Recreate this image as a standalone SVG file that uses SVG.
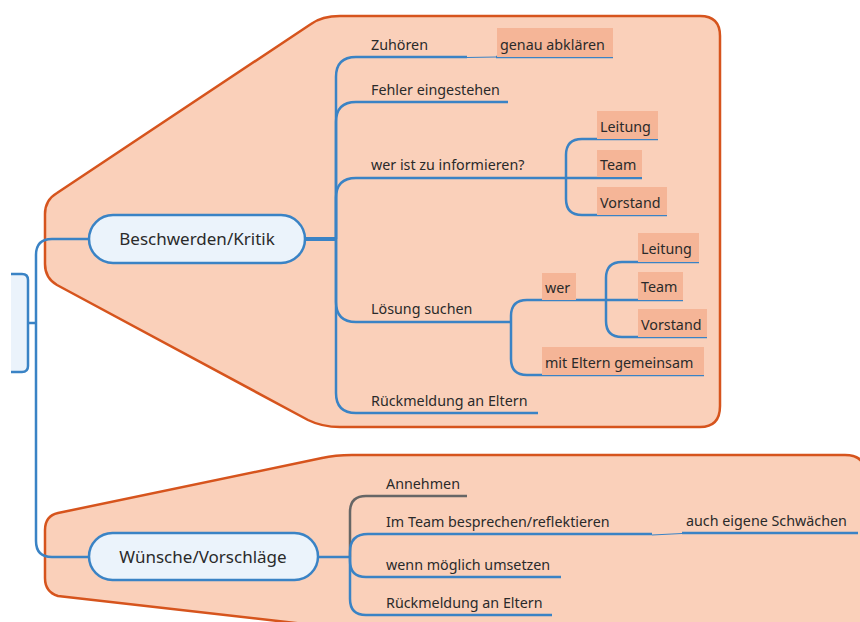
<svg xmlns="http://www.w3.org/2000/svg" width="860" height="622" viewBox="0 0 860 622">
<style>
.region{fill:#FAD0BA;stroke:#D6541D;stroke-width:2.5;stroke-linejoin:round}
.main{fill:#EBF3FB;stroke:#3A83C5;stroke-width:2.5}
.mt{font-family:"Noto Sans","Open Sans",sans-serif;font-size:17px;fill:#2a2a2a;text-anchor:middle}
.t{font-family:"Noto Sans","Open Sans",sans-serif;font-size:14.3px;fill:#2a2a2a}
.sb{fill:#F5B597}
.ln{fill:none;stroke:#3A83C5;stroke-width:2.5;stroke-linecap:butt}
.thin{fill:none;stroke:#3A83C5;stroke-width:1.2}
.grey{fill:none;stroke:#666;stroke-width:2.5}
</style>
<rect width="860" height="622" fill="#fff"/>
<g id="regions">
<path class="region" d="M57,193 L311,24 Q322,16 340,16 L700,16 Q720,16 720,36 L720,406 Q720,427 700,427 L340,427 Q322,427 308,420 L57,285 Q45,278 45,264 L45,214 Q45,200 57,193 Z"/>
<path class="region" d="M58,513 L322,458 Q335,455 352,455 L845,455 Q866,455 866,476 L866,640 L445,640 L58,596 Q45,592 45,578 L45,530 Q45,516 58,513 Z"/>
</g>
<g id="root">
<path d="M11,274 H22 Q28,274 28,280 V366 Q28,372 22,372 H11 Z" fill="#EBF3FB"/>
<path d="M11,274 H22 Q28,274 28,280 V366 Q28,372 22,372 H11" fill="none" stroke="#3A83C5" stroke-width="2.5"/>
</g>
<g id="connectors">
<path class="ln" d="M28,323 H36"/>
<path class="ln" d="M89,239 H52 Q36,239 36,255 V541 Q36,557 52,557 H89"/>
<path class="ln" d="M305,239 H336" style="stroke-width:4"/>
<path class="ln" d="M336,239 V77 Q336,57 356,57 H467"/>
<path class="thin" d="M467,57.5 L497,57"/>
<path class="ln" d="M336,239 V122 Q336,102 356,102 H508"/>
<path class="ln" d="M336,239 V198 Q336,178 356,178 H642"/>
<path class="ln" d="M336,239 V302 Q336,322 356,322 H511"/>
<path class="ln" d="M336,239 V393 Q336,413 356,413 H538"/>
<path class="ln" d="M566,177 V155 Q566,139 582,139 H658"/>
<path class="ln" d="M566,177 V199 Q566,215 582,215 H667"/>
<path class="ln" d="M511,322 V316 Q511,300 527,300 H683"/>
<path class="ln" d="M511,322 V359 Q511,375 527,375 H704"/>
<path class="ln" d="M606,300 V278 Q606,262 622,262 H699"/>
<path class="ln" d="M606,300 V321 Q606,337 622,337 H707"/>
<path class="ln" d="M496,57 H613"/>
<path class="ln" d="M318,557 H350"/>
<path class="grey" d="M350,557 V512 Q350,496 366,496 H467"/>
<path class="ln" d="M350,557 V552 Q350,534 368,534 H652"/>
<path class="thin" d="M652,535 L682,533.5"/>
<path class="ln" d="M682,533 H858"/>
<path class="ln" d="M350,557 V561 Q350,577 366,577 H561"/>
<path class="ln" d="M350,557 V599 Q350,615 366,615 H552"/>
</g>
<g id="n-beschwerden">
<rect class="main" x="89" y="215" width="216" height="48" rx="24"/>
<text class="mt" x="197" y="245">Beschwerden/Kritik</text>
</g>
<g id="n-wuensche">
<rect class="main" x="89" y="533" width="229" height="47" rx="23.5"/>
<text class="mt" x="203" y="563">Wünsche/Vorschläge</text>
</g>
<g id="n-zuhoeren"><text class="t" x="371" y="50">Zuhören</text></g>
<g id="n-genau"><rect class="sb" x="497" y="28" width="116" height="29"/><text class="t" x="500" y="50">genau abklären</text></g>
<g id="n-fehler"><text class="t" x="371" y="95">Fehler eingestehen</text></g>
<g id="n-werist"><text class="t" x="371" y="170">wer ist zu informieren?</text></g>
<g id="n-leitung1"><rect class="sb" x="597" y="111" width="61" height="28"/><text class="t" x="600" y="132">Leitung</text></g>
<g id="n-team1"><rect class="sb" x="597" y="150" width="45" height="27"/><text class="t" x="600" y="170">Team</text></g>
<g id="n-vorstand1"><rect class="sb" x="597" y="187" width="70" height="28"/><text class="t" x="600" y="208">Vorstand</text></g>
<g id="n-loesung"><text class="t" x="371" y="314">Lösung suchen</text></g>
<g id="n-wer"><rect class="sb" x="542" y="273" width="34" height="27"/><text class="t" x="545" y="293">wer</text></g>
<g id="n-leitung2"><rect class="sb" x="638" y="233" width="61" height="29"/><text class="t" x="641" y="254">Leitung</text></g>
<g id="n-team2"><rect class="sb" x="638" y="272" width="45" height="28"/><text class="t" x="641" y="292">Team</text></g>
<g id="n-vorstand2"><rect class="sb" x="638" y="309" width="69" height="28"/><text class="t" x="641" y="330">Vorstand</text></g>
<g id="n-miteltern"><rect class="sb" x="542" y="347" width="162" height="28"/><text class="t" x="545" y="368">mit Eltern gemeinsam</text></g>
<g id="n-rueck1"><text class="t" x="371" y="406">Rückmeldung an Eltern</text></g>
<g id="n-annehmen"><text class="t" x="386" y="489">Annehmen</text></g>
<g id="n-imteam"><text class="t" x="386" y="527">Im Team besprechen/reflektieren</text></g>
<g id="n-schwaechen"><text class="t" x="686" y="526">auch eigene Schwächen</text></g>
<g id="n-umsetzen"><text class="t" x="386" y="570">wenn möglich umsetzen</text></g>
<g id="n-rueck2"><text class="t" x="386" y="608">Rückmeldung an Eltern</text></g>
</svg>
